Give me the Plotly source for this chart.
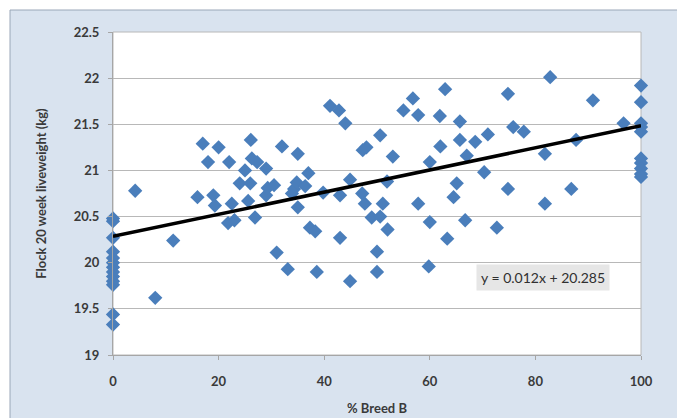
import plotly.graph_objects as go

# % Breed B for each flock
breed_b = [
    0, 0, 0, 0, 0, 0, 0, 0, 0, 0, 0, 0, 0,
    4.2, 8, 11.4, 16, 17, 18, 19, 19.3, 20, 21.8, 22, 22.5, 23, 24, 25,
    25.6, 26, 26.1, 26.3, 26.9, 27.3, 29, 29, 29.3, 30.5, 31, 32, 33.1,
    33.9, 34.3, 34.8, 35, 35, 36.4, 37, 37.3, 38.3, 38.6, 39.8, 41.1,
    42.8, 43, 43, 44, 44.9, 44.9, 47.2, 47.3, 47.7, 48, 49, 50, 50, 50.6,
    50.6, 51.1, 51.9, 52, 53, 55, 56.8, 57.8, 57.8, 60, 60, 59.8, 62, 61.9,
    62.9, 63.3, 64.5, 65.1, 65.7, 65.7, 66.7, 67, 68.6, 70.3, 71, 72.7,
    74.8, 74.8, 75.8, 77.8, 81.8, 81.8, 82.8, 86.8, 87.7, 90.9, 96.7,
    100, 100, 100, 100, 100, 100, 100, 100, 100, 100,
]

# Flock liveweight at 20 weeks (kg)
liveweight = [
    20.48, 20.45, 20.27, 20.12, 20.05, 20.0, 19.95, 19.9, 19.85, 19.8, 19.76, 19.44, 19.33,
    20.78, 19.62, 20.24, 20.71, 21.29, 21.09, 20.73, 20.62, 21.25, 20.43, 21.09, 20.64, 20.46, 20.86, 21.0,
    20.67, 20.86, 21.33, 21.13, 20.49, 21.09, 21.02, 20.73, 20.81, 20.84, 20.11, 21.26, 19.93,
    20.75, 20.8, 20.87, 21.18, 20.6, 20.83, 20.97, 20.38, 20.34, 19.9, 20.76, 21.7,
    21.65, 20.73, 20.27, 21.51, 20.9, 19.8, 20.75, 21.22, 20.64, 21.25, 20.49, 20.12, 19.9, 21.38,
    20.5, 20.64, 20.88, 20.36, 21.15, 21.65, 21.78, 21.6, 20.64, 21.09, 20.44, 19.96, 21.26, 21.59,
    21.88, 20.26, 20.71, 20.86, 21.53, 21.33, 20.46, 21.16, 21.31, 20.98, 21.39, 20.38,
    21.83, 20.8, 21.47, 21.42, 21.18, 20.64, 22.01, 20.8, 21.33, 21.76, 21.51,
    21.92, 21.74, 21.51, 21.47, 21.42, 21.13, 21.08, 21.02, 20.96, 20.93,
]

# Linear trend: y = slope * x + intercept
slope = 0.012
intercept = 20.285
trend_x = [0, 100]
trend_y = [slope * v + intercept for v in trend_x]
equation_text = "y = 0.012x + 20.285"

x_ticks = [0, 20, 40, 60, 80, 100]
y_ticks = [19, 19.5, 20, 20.5, 21, 21.5, 22, 22.5]
y_tick_text = ["19", "19.5", "20", "20.5", "21", "21.5", "22", "22.5"]

W, H = 677, 418
ML, MR, MT, MB = 113, 36, 32, 63
pw, ph = W - ML - MR, H - MT - MB


def px_to_paper_x(px):
    return (px - ML) / pw


def px_to_paper_y(py):
    return (H - MB - py) / ph


FONT = "Lato, Liberation Sans, sans-serif"
TEXT_COLOR = "#3a3a3a"

fig = go.Figure()

fig.add_trace(go.Scatter(
    x=breed_b, y=liveweight, mode="markers",
    marker=dict(symbol="diamond", size=11, color="#4a7ebb",
                line=dict(width=0)),
    cliponaxis=False,
    showlegend=False, hoverinfo="x+y",
))

fig.add_trace(go.Scatter(
    x=trend_x, y=trend_y, mode="lines",
    line=dict(color="black", width=3.5),
    cliponaxis=False,
    showlegend=False, hoverinfo="skip",
))

tick_font = dict(family=FONT, size=13, color=TEXT_COLOR, weight="bold")
title_font = dict(family=FONT, size=13, color=TEXT_COLOR)

fig.update_layout(
    width=W, height=H,
    margin=dict(l=ML, r=MR, t=MT, b=MB, autoexpand=False),
    paper_bgcolor="white",
    plot_bgcolor="white",
    xaxis=dict(
        range=[0, 100], tickvals=x_ticks, ticktext=[str(v) for v in x_ticks],
        showgrid=False, zeroline=False, automargin=False,
        showline=True, linecolor="#a6a6a6", linewidth=1,
        ticks="outside", ticklen=4, tickcolor="#a6a6a6",
        ticklabelstandoff=10,
        tickfont=tick_font,
        title=dict(text="<b>% Breed B</b>", standoff=16, font=title_font),
    ),
    yaxis=dict(
        range=[19, 22.5], tickvals=y_ticks, ticktext=y_tick_text,
        showgrid=True, gridcolor="#b8b8b8", gridwidth=1,
        zeroline=False, automargin=False,
        showline=True, linecolor="#a6a6a6", linewidth=1,
        ticks="outside", ticklen=4, tickcolor="#a6a6a6",
        ticklabelstandoff=6,
        tickfont=tick_font,
        title=dict(text="<b>Flock 20 week liveweight (kg)</b>", standoff=24, font=title_font),
    ),
)

# Chart frame: tinted panel behind the plot area
fig.add_shape(
    type="rect", xref="paper", yref="paper", layer="below",
    x0=px_to_paper_x(10), x1=px_to_paper_x(W + 5),
    y0=px_to_paper_y(H + 5), y1=px_to_paper_y(10),
    fillcolor="#d9e3ef", line=dict(color="#9aa7b8", width=1),
)
# White plot area on top of the frame
fig.add_shape(
    type="rect", xref="paper", yref="paper", layer="below",
    x0=0, x1=1, y0=0, y1=1,
    fillcolor="white", line=dict(color="#b8b8b8", width=1),
)

fig.add_annotation(
    x=px_to_paper_x(543), y=px_to_paper_y(277), xref="paper", yref="paper",
    xanchor="center", yanchor="middle",
    text=equation_text, showarrow=False,
    font=dict(family=FONT, size=14, color="#303030"),
    bgcolor="#e6e6e6", borderpad=4,
)

fig.write_html("out.html")
